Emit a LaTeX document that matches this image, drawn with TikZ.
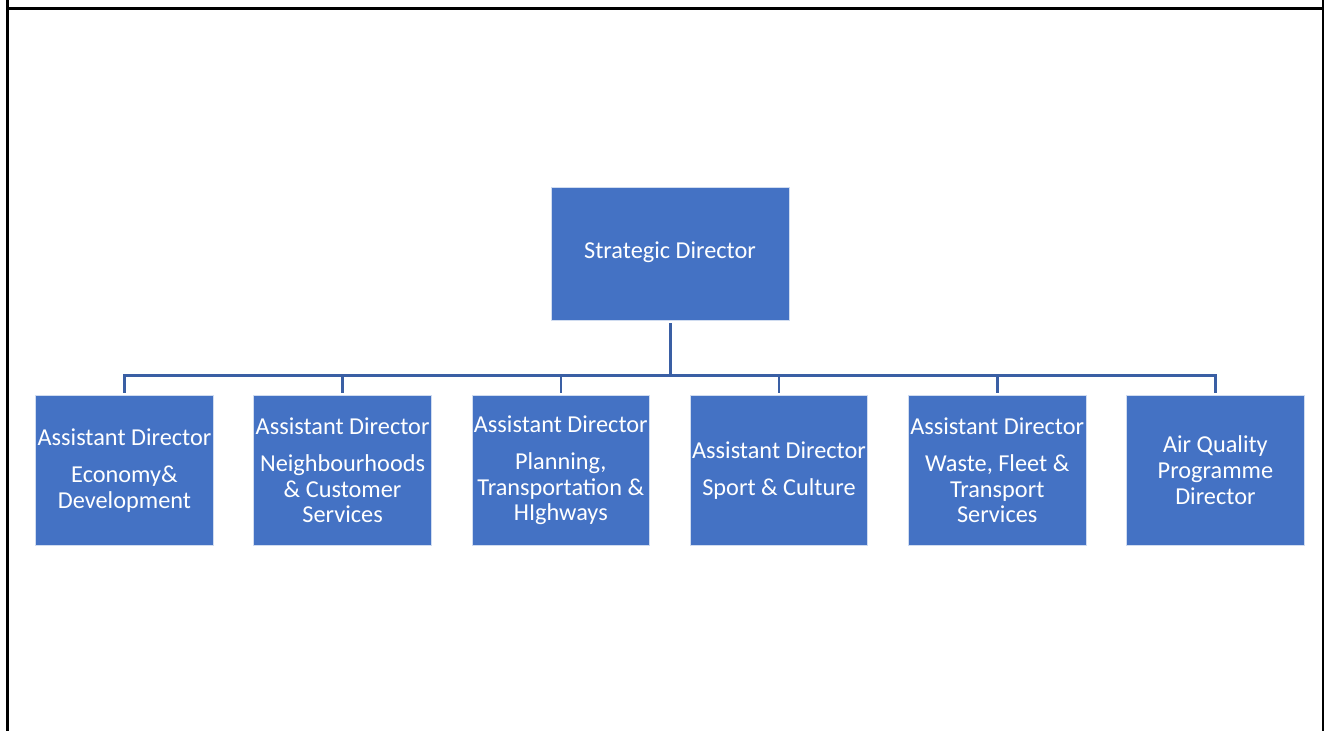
\documentclass[tikz,border=0pt]{standalone}
\usepackage{fontspec}
\setmainfont{Carlito}
\definecolor{boxblue}{HTML}{4472C4}
\definecolor{connblue}{HTML}{3A5FA4}
\begin{document}
\begin{tikzpicture}[x=1pt,y=-1pt,
  box/.style={draw=white!75!boxblue, line width=0.8pt, fill=boxblue, text=white,
    inner sep=0pt, align=center, minimum width=177.6pt, minimum height=149.3pt,
    font=\fontsize{24.3}{25.8}\selectfont},
  conn/.style={draw=connblue, line width=2.6pt, line join=miter},
  frame/.style={draw=black, line width=3pt}]
\useasboundingbox (0,0) rectangle (1324,731);
% frame lines
\draw[frame] (7.5,0) -- (7.5,731);
\draw[frame] (6,8.5) -- (1322.5,8.5);
\draw[draw=black, line width=1.5pt] (1322.8,0) -- (1322.8,731);
% parent
\node[box, minimum width=238pt, minimum height=132.7pt] (sd) at (670,253.6) {\strut Strategic Director};
% children
\node[box] (c1) at (124.5,470.4) {Assistant Director\\[11pt]Economy\&\\Development};
\node[box] (c2) at (342.6,470.4) {Assistant Director\\[11pt]Neighbourhoods\\\& Customer\\Services};
\node[box] (c3) at (560.8,470.4) {Assistant Director\\[11pt]Planning,\\Transportation \&\\HIghways};
\node[box] (c4) at (779.0,470.4) {Assistant Director\\[11pt]Sport \& Culture};
\node[box] (c5) at (997.2,470.4) {Assistant Director\\[11pt]Waste, Fleet \&\\Transport\\Services};
\node[box] (c6) at (1215.4,470.4) {Air Quality\\Programme\\Director};
% connectors
\coordinate (bus) at (670,375.5);
\draw[conn, line width=3pt] ([yshift=-3pt]sd.south) -- (sd.south |- bus);
\draw[conn] ([yshift=2.5pt]c1.north) -- (c1.north |- bus) -- (c6.north |- bus) -- ([yshift=2.5pt]c6.north);
\foreach \n in {c2,c3,c4,c5}
  \draw[conn] (\n.north |- bus) -- ([yshift=2.5pt]\n.north);
\end{tikzpicture}
\end{document}
